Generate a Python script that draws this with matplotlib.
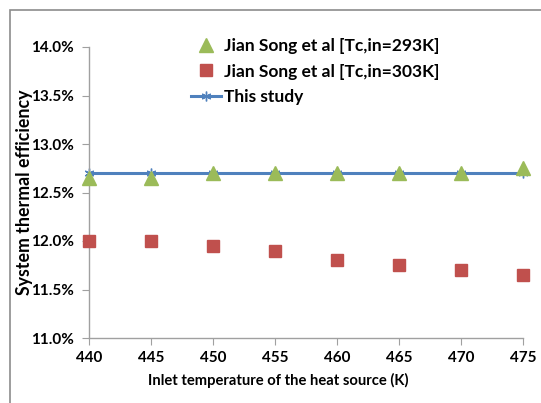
import matplotlib.pyplot as plt
from matplotlib.patches import Rectangle
from matplotlib.ticker import FuncFormatter

# data
temps = [440, 445, 450, 455, 460, 465, 470, 475]
eff_293 = [12.65, 12.65, 12.70, 12.70, 12.70, 12.70, 12.70, 12.75]
eff_303 = [12.00, 12.00, 11.95, 11.90, 11.80, 11.75, 11.70, 11.65]
eff_study = [12.70, 12.70, 12.70, 12.70, 12.70, 12.70, 12.70, 12.70]
y_ticks = [11.0, 11.5, 12.0, 12.5, 13.0, 13.5, 14.0]

plt.rcParams['font.family'] = ['Lato', 'DejaVu Sans']

fig = plt.figure(figsize=(5.41, 4.03), dpi=100)
# outer chart border (runs off the right and bottom)
fig.patches.append(Rectangle((10 / 541, -0.05), 1.2, 1 - 10 / 403 + 0.05,
                             transform=fig.transFigure, fill=False,
                             edgecolor='#8c8c8c', linewidth=1.2))

ax = fig.add_axes([89 / 541, 1 - 338 / 403, (523 - 89) / 541, (338 - 47) / 403])

ax.plot(temps, eff_293, linestyle='none', marker='^', markersize=10,
        color='#9BBB59', label='Jian Song et al [Tc,in=293K]', zorder=3,
        clip_on=False)
ax.plot(temps, eff_303, linestyle='none', marker='s', markersize=9,
        color='#C0504D', label='Jian Song et al [Tc,in=303K]', zorder=3,
        clip_on=False)
ax.plot(temps, eff_study, color='#4F81BD', linewidth=2.2, marker=(6, 2, 0),
        markersize=7, markeredgewidth=1, label='This study', zorder=2,
        clip_on=False)

ax.set_xlim(440, 475)
ax.set_ylim(11.0, 14.0)
ax.set_xticks(temps)
ax.set_yticks(y_ticks)
ax.yaxis.set_major_formatter(FuncFormatter(lambda v, p: f'{v:.1f}%'))

for s in ['top', 'right']:
    ax.spines[s].set_visible(False)
for s in ['left', 'bottom']:
    ax.spines[s].set_color('#a0a0a0')
    ax.spines[s].set_linewidth(1)
ax.tick_params(axis='y', direction='out', length=5, color='#a0a0a0',
               labelsize=11, pad=6)
ax.tick_params(axis='x', direction='out', length=5, color='#a0a0a0',
               labelsize=11, pad=4)
for lab in ax.get_xticklabels() + ax.get_yticklabels():
    lab.set_fontweight('bold')

ax.set_xlabel('Inlet temperature of the heat source (K)', fontsize=10.6,
              fontweight='bold')
ax.xaxis.set_label_coords(0.435, -0.12)
ax.set_ylabel('System thermal efficiency', fontsize=12.8, fontweight='bold')
ax.yaxis.set_label_coords(-0.129, 0.5)

ax.legend(loc='upper left', bbox_to_anchor=(0.22, 1.056), frameon=False,
          handlelength=1.7, handletextpad=0.2, labelspacing=0.57,
          borderaxespad=0, prop={'weight': 'bold', 'size': 12.5})

fig.savefig('out.png', dpi=100)
